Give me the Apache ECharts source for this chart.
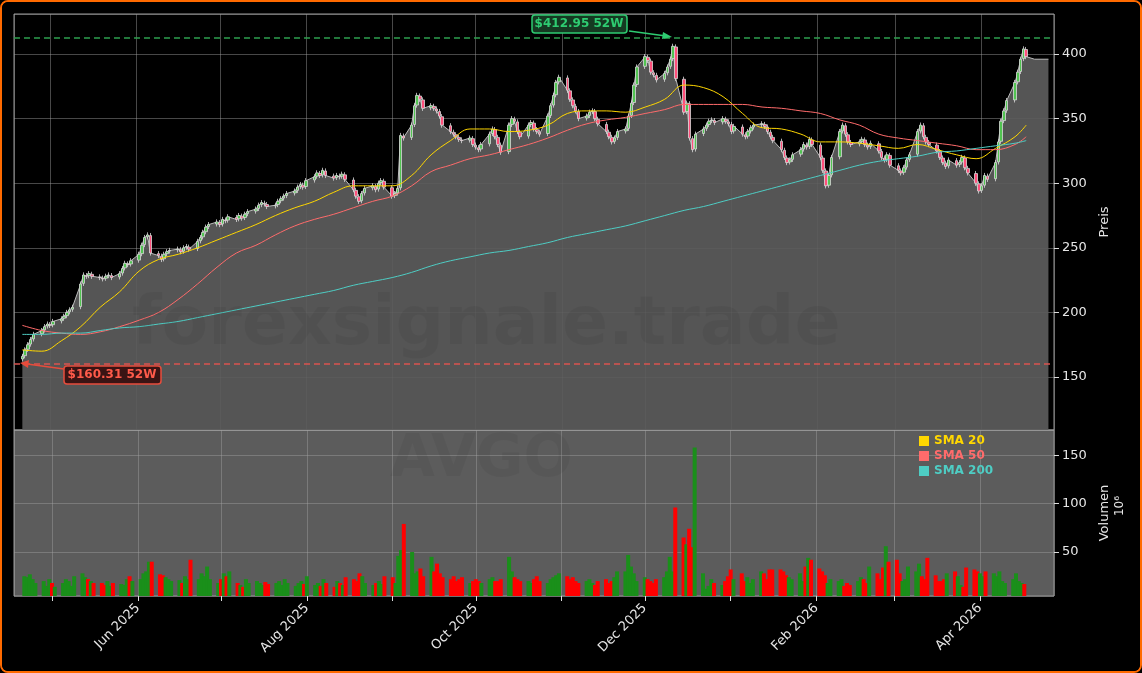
<!DOCTYPE html>
<html><head><meta charset="utf-8">
<script src="https://cdn.jsdelivr.net/npm/echarts@6/dist/echarts.min.js"></script>
<style>
html,body{margin:0;padding:0;background:#000;}
#wrap{position:absolute;left:0;top:0;width:1138px;height:669px;border:2px solid #ff6a00;border-radius:8px;background:#000;overflow:hidden;}
#c{width:1138px;height:669px;}
</style></head><body>
<div id="wrap"><div id="c"></div></div>
<script>
// Weekly blocks of daily closes (Mon..Fri), first week starts 2025-04-21
const closeWeeks = [
[166,171,175,179,183],[186,189,191,190,193],[195,197,200,202,204],[222,229,228,230,228],
[227,226,228,229,227],[230,234,238,237,240],[245,252,258,260,246],[244,241,245,247,248],
[249,247,250,251,249],[255,258,262,266,268],[270,268,272,271,274],[272,275,273,276,278],
[280,283,285,284,282],[283,286,288,290,292],[294,297,299,297,302],[305,308,306,310,306],
[304,306,305,307,303],[295,290,286,292,296],[298,295,300,302,297],[290,292,296,337,335],
[345,360,368,365,358],[360,358,356,352,345],[340,338,336,334,333],[335,330,328,326,330],
[338,342,336,330,324],[345,350,348,340,336],[345,347,342,340,338],[352,360,368,378,382],
[372,365,360,356,350],[352,355,356,350,346],[340,336,332,335,340],[342,352,362,376,390],
[398,395,386,384,380],[385,390,396,406,381],[355,362,335,326,338],[342,345,348,349,347],
[350,348,346,340,344],[338,336,340,343,345],[346,344,340,336,333],[326,320,316,318,322],
[326,330,328,334,330],[320,310,298,306,320],[340,345,338,332,330],[332,334,330,328,331],
[325,320,318,322,314],[310,308,312,318,322],[340,345,336,332,330],[325,320,316,313,318],
[314,316,320,312,308],[300,294,298,306,303],[316,332,348,356,364],[378,386,396,404,398]
];
const volumeWeeks = [
[25,24,27,22,18],[20,15,22,18,14],[18,22,20,15,25],[28,24,22,20,18],[18,16,20,15,18],
[17,16,22,25,20],[22,28,30,40,40],[27,26,24,22,20],[21,18,25,22,42],[22,28,25,35,22],
[18,22,28,25,30],[18,16,14,22,18],[20,18,16,19,17],[18,20,16,22,18],[15,18,20,17,25],
[16,18,15,22,18],[14,20,18,16,24],[22,20,28,25,18],[16,18,20,17,25],[24,18,46,52,79],
[50,28,30,33,25],[45,30,38,28,24],[22,25,20,22,24],[18,20,22,20,18],[22,24,20,20,22],
[45,30,24,22,20],[20,18,22,25,20],[18,22,24,26,28],[25,22,24,20,18],[20,22,18,16,20],
[22,18,20,24,30],[30,47,35,28,20],[24,22,20,18,22],[24,30,45,30,96],[65,58,74,55,158],
[28,12,15,22,18],[16,20,25,32,22],[28,20,24,18,22],[30,28,22,32,32],[32,30,26,24,22],
[28,20,35,44,42],[33,30,26,18,22],[20,22,15,18,16],[20,24,22,18,35],[28,22,34,56,40],
[42,28,20,22,35],[30,38,25,22,44],[26,20,20,22,28],[30,25,16,14,34],[32,30,28,25,30],
[28,25,30,20,18],[22,28,20,18,17]
];
// SMA values read at each week's Monday, plus final value
const sma20  = [171,170,178,189,204,216,232,241,245,250,256,262,268,275,281,286,293,298,298,298,306,322,333,342,342,340,341,345,354,356,356,355,359,365,376,374,367,354,343,342,338,332,332,331,329,327,330,326,322,319,327,336,345];
const sma50  = [190,186,184,183,185,189,194,200,210,222,235,246,252,260,267,272,276,281,286,290,298,309,314,319,322,326,330,335,341,346,349,351,354,357,361,361,361,361,359,358,356,354,349,345,338,335,333,331,329,326,326,330,336];
const sma200 = [183,183,184,184,186,188,189,191,193,196,199,202,205,208,211,214,217,221,224,227,231,236,240,243,246,248,251,254,258,261,264,267,271,275,279,282,286,290,294,298,302,306,310,314,317,319,321,324,325,327,329,331,333];
const firstOpen = 164;
const high52 = 412.95, low52 = 160.31;
const areaTailValue = 396;
const xLabelMonths = ['Jun 2025','Aug 2025','Oct 2025','Dec 2025','Feb 2026','Apr 2026'];

const closes = closeWeeks.flat();
const vols = volumeWeeks.flat();
const DAY = 86400000;
const start = Date.UTC(2025,3,21);
const dates = [];
for (let w=0; w<closeWeeks.length; w++) for (let d=0; d<5; d++) dates.push(start + (w*7+d)*DAY);
const weekDates = closeWeeks.map((_,w)=>start + w*7*DAY);
weekDates.push(dates[dates.length-1]);

const candles = [], vol = [], closeLine = [];
closes.forEach((c,i)=>{
  const o = i===0 ? firstOpen : closes[i-1] + (c>closes[i-1]? 0.5 : -0.5);
  const hi = Math.max(o,c)+2, lo = Math.min(o,c)-2;
  candles.push([dates[i], o, c, lo, hi]);
  closeLine.push([dates[i], c]);
  vol.push({value:[dates[i], vols[i]], itemStyle:{color: c>=o ? '#1a8f1a' : '#ff0000'}});
});
closeLine.push([dates[dates.length-1]+3*DAY, areaTailValue]);
closeLine.push([Date.UTC(2026,3,25), areaTailValue]);
const mk = arr => arr.map((v,i)=>[weekDates[i], v]);

const xMin = Date.UTC(2025,3,18), xMax = Date.UTC(2026,3,27);
const monthName = ['Jan','Feb','Mar','Apr','May','Jun','Jul','Aug','Sep','Oct','Nov','Dec'];
const fmt = v => { const d=new Date(v); const s=monthName[d.getUTCMonth()]+' '+d.getUTCFullYear(); return xLabelMonths.includes(s)? s : ''; };
const gridLine = {show:true, lineStyle:{color:'rgba(160,160,160,0.45)', width:1}};
const axisTxt = {color:'#e6e6e6', fontSize:13, fontFamily:'DejaVu Sans'};

const chart = echarts.init(document.getElementById('c'));
chart.setOption({
  backgroundColor:'#000',
  animation:false,
  grid:[
    {left:12, right:86, top:12, height:416, show:true, borderColor:'#999', backgroundColor:'#000'},
    {left:12, right:86, top:428, height:166, show:true, borderColor:'#999', backgroundColor:'#5c5c5c'}
  ],
  xAxis:[
    {type:'time', gridIndex:0, min:xMin, max:xMax, splitNumber:12, axisLabel:{show:false}, axisTick:{show:false}, axisLine:{show:false}, splitLine:gridLine},
    {type:'time', gridIndex:1, min:xMin, max:xMax, splitNumber:12, axisLine:{show:false},
     axisTick:{show:true, length:5, lineStyle:{color:'#ddd'}},
     axisLabel:{...axisTxt, rotate:45, formatter:fmt, margin:10, hideOverlap:false, showMinLabel:false, showMaxLabel:false}, splitLine:gridLine}
  ],
  yAxis:[
    {type:'value', gridIndex:0, position:'right', min:109, max:431, splitNumber:7,
     axisLabel:{...axisTxt, showMinLabel:false, showMaxLabel:false, margin:8},
     axisTick:{show:true, length:5, lineStyle:{color:'#ddd'}}, axisLine:{show:false}, splitLine:gridLine,
     name:'Preis', nameLocation:'middle', nameGap:42, nameRotate:90, nameTextStyle:{...axisTxt}},
    {type:'value', gridIndex:1, position:'right', min:4.6, max:176, splitNumber:4,
     axisLabel:{...axisTxt, showMinLabel:false, showMaxLabel:false, margin:8},
     axisTick:{show:true, length:5, lineStyle:{color:'#ddd'}}, axisLine:{show:false}, splitLine:gridLine,
     name:'Volumen', nameLocation:'middle', nameGap:38, nameRotate:90, nameTextStyle:{...axisTxt}}
  ],
  legend:{orient:'vertical', left:912, top:428, itemGap:3, itemWidth:10, itemHeight:10, icon:'rect',
    data:[{name:'SMA 20', textStyle:{color:'#ffd700'}},{name:'SMA 50', textStyle:{color:'#ff6b6b'}},{name:'SMA 200', textStyle:{color:'#4ecdc4'}}],
    textStyle:{fontWeight:'bold', fontSize:12, fontFamily:'DejaVu Sans'}},
  series:[
    {type:'line', name:'close', xAxisIndex:0, yAxisIndex:0, data:closeLine, symbol:'none',
     lineStyle:{color:'#bbb', width:1}, areaStyle:{color:'rgb(92,92,92)', opacity:0.92, origin:'start'}, z:1},
    {type:'candlestick', xAxisIndex:0, yAxisIndex:0, data:candles, encode:{x:0,y:[1,2,3,4]}, barWidth:3,
     itemStyle:{color:'#52c452', color0:'#ff4f7b', borderColor:'#d8d8d8', borderColor0:'#d8d8d8', borderWidth:0.8}, z:3,
     markLine:{symbol:'none', silent:true, label:{show:false},
       data:[{yAxis:high52, lineStyle:{color:'#2e9e4f', type:[6,4], width:1.5}},{yAxis:low52, lineStyle:{color:'#d9534f', type:[6,4], width:1.5}}]}},
    {type:'line', name:'SMA 20', xAxisIndex:0, yAxisIndex:0, data:mk(sma20), symbol:'none', smooth:0.4, lineStyle:{color:'#ffd700', width:1}, itemStyle:{color:'#ffd700'}, z:4},
    {type:'line', name:'SMA 50', xAxisIndex:0, yAxisIndex:0, data:mk(sma50), symbol:'none', smooth:0.4, lineStyle:{color:'#ff6b6b', width:1}, itemStyle:{color:'#ff6b6b'}, z:4},
    {type:'line', name:'SMA 200', xAxisIndex:0, yAxisIndex:0, data:mk(sma200), symbol:'none', smooth:0.4, lineStyle:{color:'#4ecdc4', width:1}, itemStyle:{color:'#4ecdc4'}, z:4},
    {type:'bar', xAxisIndex:1, yAxisIndex:1, data:vol, barWidth:4, z:2}
  ],
  graphic:[
    {type:'text', left:130, top:290, z:5, silent:true, style:{text:'forexsignale.trade', font:'bold 68px "DejaVu Sans"', fill:'rgba(0,0,0,0.05)'}},
    {type:'text', left:388, top:430, z:5, silent:true, style:{text:'AVGO', font:'bold 58px "DejaVu Sans"', fill:'rgba(0,0,0,0.05)'}},
    {type:'text', left:1112, top:494, rotation:Math.PI/2, style:{text:'10⁶', font:'12px "DejaVu Sans"', fill:'#e6e6e6'}},
    {type:'rect', shape:{x:530, y:13, width:95, height:18, r:3}, style:{fill:'#153a22', stroke:'#2ecc71', lineWidth:1.5}, z:10},
    {type:'text', x:577, y:22, style:{text:'$412.95 52W', font:'bold 12px "DejaVu Sans"', fill:'#2ecc71', align:'center', verticalAlign:'middle'}, z:11},
    {type:'line', shape:{x1:627, y1:29, x2:664, y2:34}, style:{stroke:'#2ecc71', lineWidth:1.5}, z:10},
    {type:'polygon', shape:{points:[[670,35],[661,30],[660,37]]}, style:{fill:'#2ecc71'}, z:10},
    {type:'rect', shape:{x:62, y:364, width:97, height:18, r:3}, style:{fill:'#3a1414', stroke:'#e74c3c', lineWidth:1.5}, z:10},
    {type:'text', x:110, y:373, style:{text:'$160.31 52W', font:'bold 12px "DejaVu Sans"', fill:'#ff5a4a', align:'center', verticalAlign:'middle'}, z:11},
    {type:'line', shape:{x1:62, y1:367, x2:25, y2:362}, style:{stroke:'#e74c3c', lineWidth:1.5}, z:10},
    {type:'polygon', shape:{points:[[18,361],[27,358],[26,366]]}, style:{fill:'#e74c3c'}, z:10}
  ]
});
</script></body></html>
